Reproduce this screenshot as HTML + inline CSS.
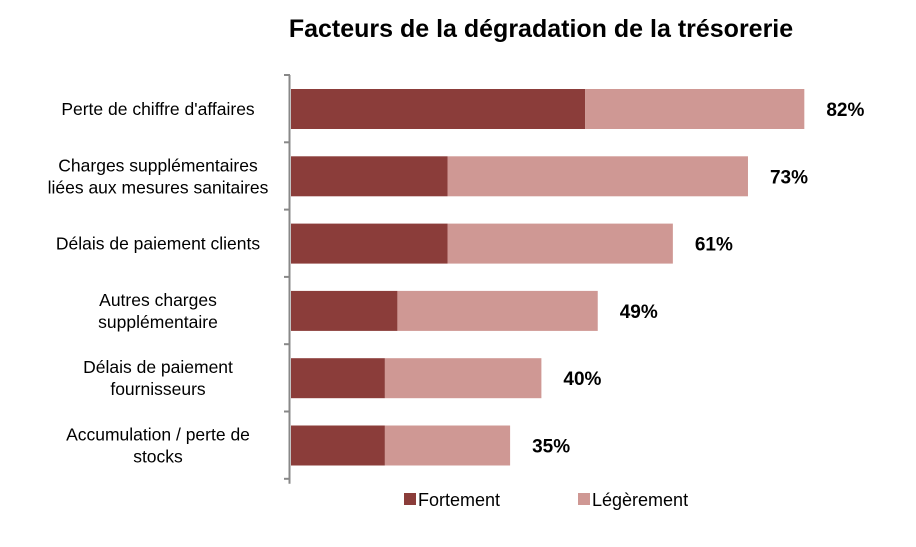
<!DOCTYPE html>
<html><head><meta charset="utf-8"><style>
body{margin:0;background:#fff;}
svg text{font-family:"Liberation Sans",sans-serif;}
</style></head><body>
<svg id="chart" width="916" height="542" xmlns="http://www.w3.org/2000/svg">
<text x="541" y="37" text-anchor="middle" font-size="25" font-weight="bold" fill="#000">Facteurs de la dégradation de la trésorerie</text>
<g id="plot"></g>
</svg>
<script>
const categories=[["Perte de chiffre d'affaires"],["Charges supplémentaires","liées aux mesures sanitaires"],["Délais de paiement clients"],["Autres charges","supplémentaire"],["Délais de paiement","fournisseurs"],["Accumulation / perte de","stocks"]];
const fortement=[47,25,25,17,15,15];
const legerement=[35,48,36,32,25,20];
const totalLabels=["82%","73%","61%","49%","40%","35%"];
const NS="http://www.w3.org/2000/svg";
const plotG=document.getElementById('plot');
const x0=291, pxPer=6.26, yTop=75, band=67.3, barH=40, barOff=14;
const xs=v=>x0+v*pxPer;
const ys=i=>yTop+i*band;
function mk(t,a){const e=document.createElementNS(NS,t);for(const k in a)e.setAttribute(k,a[k]);plotG.appendChild(e);return e;}
categories.forEach((c,i)=>{
  const y=ys(i)+barOff;
  const r1=mk('rect',{x:xs(0),y:y,width:xs(fortement[i])-xs(0),height:barH,fill:'#8B3D3A'});
  
  
  const r2=mk('rect',{x:xs(fortement[i]),y:y,width:xs(fortement[i]+legerement[i])-xs(fortement[i]),height:barH,fill:'#CF9894'});
  
  
  const vl=mk('text',{x:xs(fortement[i]+legerement[i])+22,y:y+barH/2+7,'font-size':19,'font-weight':'bold',fill:'#000'});
  vl.textContent=totalLabels[i];
  
  
  const cy=y+barH/2;
  const n=c.length;
  c.forEach((line,j)=>{
    const t=mk('text',{x:158,y:cy+6+(j-(n-1)/2)*22,'text-anchor':'middle','font-size':17.5,fill:'#000'});
    t.textContent=line;
    
    
  });
});
const ax=mk('line',{x1:289.5,y1:yTop,x2:289.5,y2:ys(categories.length)+5,stroke:'#888','stroke-width':2});


for(let i=0;i<=categories.length;i++){
  const tk=mk('line',{x1:284,y1:ys(i),x2:290,y2:ys(i),stroke:'#888','stroke-width':2});
  
  
}
const legend=[["Fortement","#8B3D3A",404],["Légèrement","#CF9894",578]];
legend.forEach(l=>{
  const r=mk('rect',{x:l[2],y:493,width:12,height:12,fill:l[1]});
  
  
  const t=mk('text',{x:l[2]+14,y:506,'font-size':18,fill:'#000'});
  t.textContent=l[0];
  
  
});
</script>
</body></html>
